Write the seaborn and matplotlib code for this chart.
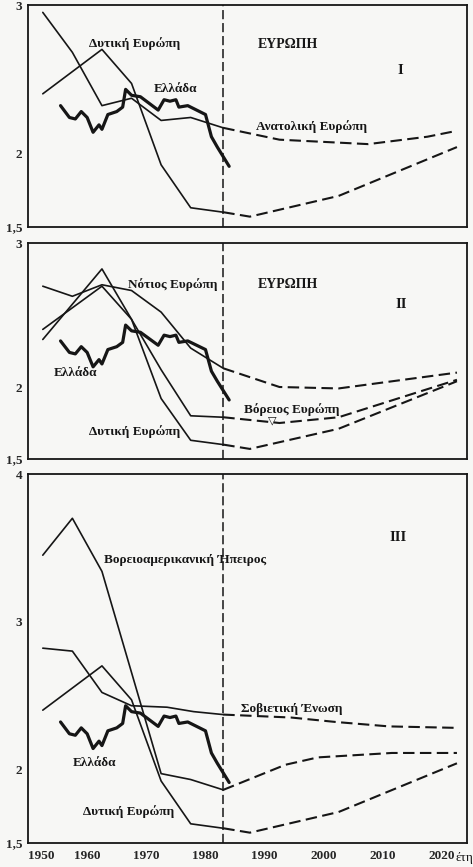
import matplotlib
matplotlib.use("Agg")
import matplotlib.pyplot as plt
import seaborn as sns
import pandas as pd

# ---------------- data ----------------
greece_years = [1955.5, 1957, 1958, 1959, 1960, 1961, 1962, 1962.5, 1963.5, 1965, 1966,
                1966.5, 1967.5, 1969, 1970, 1972, 1973, 1974, 1975, 1975.5, 1977, 1978.5,
                1980, 1981, 1982, 1984]
greece_tfr = [2.32, 2.24, 2.23, 2.28, 2.24, 2.14, 2.19, 2.16, 2.26, 2.28, 2.31,
              2.43, 2.39, 2.38, 2.35, 2.29, 2.36, 2.35, 2.36, 2.31, 2.32, 2.29,
              2.26, 2.11, 2.04, 1.91]

west_years = [1952.5, 1962.5, 1967.5, 1972.5, 1977.5, 1983]
west_tfr = [2.40, 2.70, 2.47, 1.92, 1.63, 1.60]
west_proj_years = [1983, 1987.5, 2002.5, 2022.5]
west_proj_tfr = [1.60, 1.57, 1.71, 2.04]

east_years = [1952.5, 1957.5, 1962.5, 1967.5, 1972.5, 1977.5, 1983]
east_tfr = [2.95, 2.68, 2.32, 2.37, 2.22, 2.24, 2.17]
east_proj_years = [1983, 1992.5, 2007.5, 2017.5, 2022.5]
east_proj_tfr = [2.17, 2.09, 2.06, 2.11, 2.15]

south_years = [1952.5, 1957.5, 1962.5, 1967.5, 1972.5, 1977.5, 1983]
south_tfr = [2.70, 2.63, 2.71, 2.67, 2.52, 2.27, 2.13]
south_proj_years = [1983, 1992.5, 2002.5, 2022.5]
south_proj_tfr = [2.13, 2.00, 1.99, 2.10]

north_years = [1952.5, 1962.5, 1967.5, 1972.5, 1977.5, 1983]
north_tfr = [2.33, 2.82, 2.47, 2.12, 1.80, 1.79]
north_proj_years = [1983, 1992.5, 2002.5, 2022.5]
north_proj_tfr = [1.79, 1.75, 1.79, 2.05]

namer_years = [1952.5, 1957.5, 1962.5, 1972.5, 1977.5, 1983]
namer_tfr = [3.45, 3.70, 3.34, 1.97, 1.93, 1.86]
namer_proj_years = [1983, 1993.5, 1999, 2011.5, 2022.5]
namer_proj_tfr = [1.86, 2.03, 2.08, 2.11, 2.11]

ussr_years = [1952.5, 1957.5, 1962.5, 1967.5, 1973.5, 1978, 1983]
ussr_tfr = [2.82, 2.80, 2.52, 2.43, 2.42, 2.39, 2.37]
ussr_proj_years = [1983, 1994.5, 2002, 2011, 2022.5]
ussr_proj_tfr = [2.37, 2.35, 2.32, 2.29, 2.28]

x_ticks = list(range(1950, 2025, 5))
x_labels = ["1950", "1960", "1970", "1980", "1990", "2000", "2010", "2020"]
y_ticks_small = [1.5, 2, 3]
y_labels_small = ["1,5", "2", "3"]
y_ticks_big = [1.5, 2, 3, 4]
y_labels_big = ["1,5", "2", "3", "4"]
present_year = 1983

# ---------------- style ----------------
sns.set_style("white")
INK = "#161616"
BG = "#f7f7f5"
SERIF = ["Liberation Serif", "DejaVu Serif", "DejaVu Sans"]
plt.rcParams["font.family"] = SERIF

fig = plt.figure(figsize=(4.73, 8.67), dpi=100, facecolor=BG)
L, W = 28 / 473, (467 - 28) / 473
ax1 = fig.add_axes([L, 1 - 227 / 867, W, 222 / 867])
ax2 = fig.add_axes([L, 1 - 459 / 867, W, 216 / 867])
ax3 = fig.add_axes([L, 1 - 843 / 867, W, 369 / 867])

PROJ = (0, (5.5, 2.6))


def draw(ax, years, vals, lw=1.2, ls="-"):
    df = pd.DataFrame({"year": years, "tfr": vals})
    sns.lineplot(data=df, x="year", y="tfr", ax=ax, color=INK, lw=lw,
                 linestyle=ls, estimator=None, sort=False)


def frame(ax, ylim, yt, yl, xlabels):
    ax.set_facecolor(BG)
    ax.set_xlim(1950, 2024.2)
    ax.set_ylim(*ylim)
    ax.set_xlabel("")
    ax.set_ylabel("")
    ax.set_xticks(x_ticks)
    if xlabels:
        ax.set_xticklabels([str(t) if t % 10 == 0 else "" for t in x_ticks],
                           fontsize=9.5, fontweight="bold")
        ax.get_xticklabels()[0].set_horizontalalignment("left")
    else:
        ax.set_xticklabels([])
    ax.set_yticks(yt)
    ax.set_yticklabels(yl, fontsize=9.5, fontweight="bold")
    ax.tick_params(axis="x", direction="in", length=4, width=1, color=INK, pad=5)
    ax.tick_params(axis="y", direction="out", length=3, width=1, color=INK, pad=1)
    for s in ax.spines.values():
        s.set_visible(True)
        s.set_color(INK)
        s.set_linewidth(1.3)
    ax.axvline(present_year, color=INK, lw=1.1, linestyle=(0, (6, 2.5)))


def label(ax, x, y, s, size=9.5, weight="bold"):
    ax.text(x, y, s, fontsize=size, fontweight=weight, color=INK,
            ha="center", va="center", family=SERIF)


# ---------------- Panel I ----------------
draw(ax1, east_years, east_tfr)
draw(ax1, east_proj_years, east_proj_tfr, lw=1.5, ls=PROJ)
draw(ax1, west_years, west_tfr)
draw(ax1, west_proj_years, west_proj_tfr, lw=1.5, ls=PROJ)
draw(ax1, greece_years, greece_tfr, lw=2.3)
frame(ax1, (1.5, 3.0), y_ticks_small, y_labels_small, False)
label(ax1, 1968, 2.74, "Δυτική Ευρώπη")
label(ax1, 1975, 2.43, "Ελλάδα")
label(ax1, 1994, 2.73, "ΕΥΡΩΠΗ", size=10)
label(ax1, 2013, 2.56, "I", size=10.5)
label(ax1, 1998, 2.18, "Ανατολική Ευρώπη")

# ---------------- Panel II ----------------
draw(ax2, south_years, south_tfr)
draw(ax2, south_proj_years, south_proj_tfr, lw=1.5, ls=PROJ)
draw(ax2, north_years, north_tfr)
draw(ax2, north_proj_years, north_proj_tfr, lw=1.5, ls=PROJ)
draw(ax2, west_years, west_tfr)
draw(ax2, west_proj_years, west_proj_tfr, lw=1.5, ls=PROJ)
draw(ax2, greece_years, greece_tfr, lw=2.3)
frame(ax2, (1.5, 3.0), y_ticks_small, y_labels_small, False)
label(ax2, 1974.5, 2.71, "Νότιος Ευρώπη")
label(ax2, 1994, 2.71, "ΕΥΡΩΠΗ", size=10)
label(ax2, 2013, 2.57, "II", size=10.5)
label(ax2, 1958, 2.10, "Ελλάδα")
label(ax2, 1994.5, 1.84, "Βόρειος Ευρώπη")
ax2.text(1991.3, 1.765, "▽", fontsize=8, color=INK, ha="center", va="center",
         family=["DejaVu Sans"])
label(ax2, 1968, 1.69, "Δυτική Ευρώπη")

# ---------------- Panel III ----------------
draw(ax3, namer_years, namer_tfr)
draw(ax3, namer_proj_years, namer_proj_tfr, lw=1.5, ls=PROJ)
draw(ax3, ussr_years, ussr_tfr)
draw(ax3, ussr_proj_years, ussr_proj_tfr, lw=1.5, ls=PROJ)
draw(ax3, west_years, west_tfr)
draw(ax3, west_proj_years, west_proj_tfr, lw=1.5, ls=PROJ)
draw(ax3, greece_years, greece_tfr, lw=2.3)
frame(ax3, (1.5, 4.0), y_ticks_big, y_labels_big, True)
label(ax3, 1976.5, 3.42, "Βορειοαμερικανική Ήπειρος")
label(ax3, 2012.5, 3.57, "III", size=10.5)
label(ax3, 1994.5, 2.41, "Σοβιετική Ένωση")
label(ax3, 1961.3, 2.04, "Ελλάδα")
label(ax3, 1967, 1.71, "Δυτική Ευρώπη")

fig.text(455 / 473, 1 - 858 / 867, "έτη", fontsize=9.5, color=INK,
         ha="left", va="center", family=SERIF)

fig.savefig("out.png", dpi=100, facecolor=BG)
